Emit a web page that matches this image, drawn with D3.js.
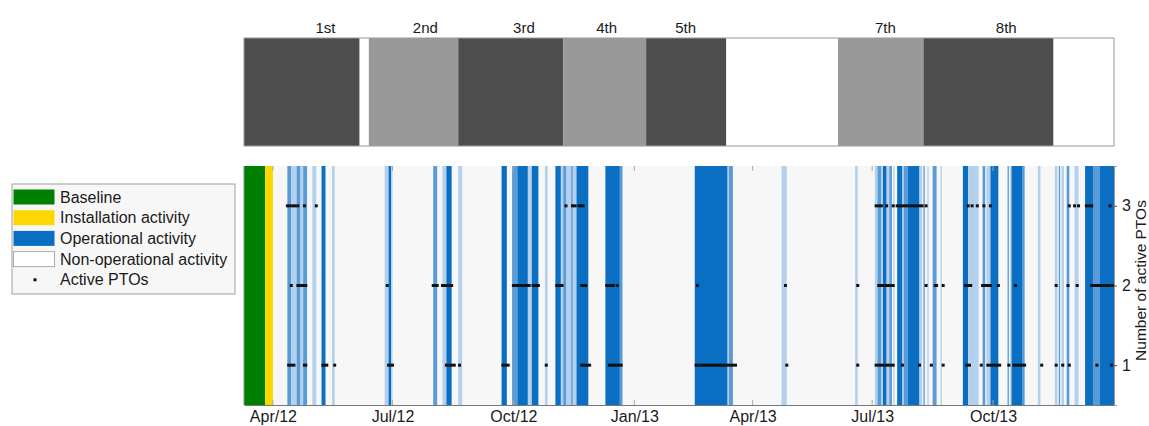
<!DOCTYPE html>
<html>
<head>
<meta charset="utf-8">
<script src="https://cdn.jsdelivr.net/npm/d3@7"></script>
<style>
  body { margin: 0; background: #fff; }
  svg { font-family: "Liberation Sans", Arial, sans-serif; }
</style>
</head>
<body>
<svg id="chart" width="1149" height="426"></svg>
<script>
// Time span shown on both panels
const timeSpan = ["2012-03-10", "2014-01-01"];

// Top band: deployment campaigns
const campaigns = [
    ["2012-03-10", "2012-06-06", "dark"],
    ["2012-06-06", "2012-06-13", "none"],
    ["2012-06-13", "2012-08-20", "light"],
    ["2012-08-20", "2012-11-08", "dark"],
    ["2012-11-08", "2013-01-10", "light"],
    ["2013-01-10", "2013-03-12", "dark"],
    ["2013-03-12", "2013-06-05", "none"],
    ["2013-06-05", "2013-08-09", "light"],
    ["2013-08-09", "2013-11-16", "dark"],
    ["2013-11-16", "2014-01-01", "none"]
];
const campaignLabels = ["1st", "2nd", "3rd", "4th", "5th", "7th", "8th"];
const campaignLabelDates = ["2012-05-11", "2012-07-26", "2012-10-09", "2012-12-11", "2013-02-09", "2013-07-11", "2013-10-11"];

// Bottom panel
const baseline = ["2012-03-10", "2012-03-26"];
const installation = ["2012-03-26", "2012-04-01"];

// operational periods: start, end, shade (L light, M mid, D dark)
const operational = [
    ["2012-04-12", "2012-04-15", "M"], ["2012-04-15", "2012-04-19", "L"], ["2012-04-19", "2012-04-22", "M"],
    ["2012-04-22", "2012-04-24", "L"], ["2012-04-24", "2012-04-27", "M"], ["2012-05-01", "2012-05-04", "L"],
    ["2012-05-08", "2012-05-11", "D"], ["2012-05-16", "2012-05-18", "L"], ["2012-06-25", "2012-06-28", "L"],
    ["2012-06-28", "2012-06-30", "D"], ["2012-06-30", "2012-07-01", "L"], ["2012-08-01", "2012-08-04", "M"],
    ["2012-08-08", "2012-08-11", "L"], ["2012-08-11", "2012-08-15", "D"], ["2012-08-20", "2012-08-23", "L"],
    ["2012-09-22", "2012-09-26", "D"], ["2012-09-30", "2012-10-04", "M"], ["2012-10-04", "2012-10-12", "D"],
    ["2012-10-12", "2012-10-15", "L"], ["2012-10-15", "2012-10-20", "D"], ["2012-10-25", "2012-10-27", "L"],
    ["2012-11-02", "2012-11-18", "L"], ["2012-11-02", "2012-11-06", "D"], ["2012-11-08", "2012-11-10", "M"],
    ["2012-11-14", "2012-11-15", "M"], ["2012-11-18", "2012-11-27", "D"], ["2012-12-10", "2012-12-21", "D"],
    ["2012-12-21", "2012-12-23", "M"], ["2013-02-16", "2013-03-13", "D"], ["2013-03-13", "2013-03-14", "L"],
    ["2013-03-14", "2013-03-17", "M"], ["2013-04-23", "2013-04-27", "L"], ["2013-06-18", "2013-06-20", "L"],
    ["2013-07-03", "2013-07-05", "L"], ["2013-07-05", "2013-07-08", "M"], ["2013-07-09", "2013-07-12", "D"],
    ["2013-07-12", "2013-07-14", "L"], ["2013-07-14", "2013-07-16", "M"], ["2013-07-17", "2013-07-18", "L"],
    ["2013-07-20", "2013-07-24", "D"], ["2013-07-24", "2013-07-25", "L"], ["2013-07-25", "2013-07-28", "M"],
    ["2013-07-28", "2013-08-06", "D"], ["2013-08-06", "2013-08-08", "L"], ["2013-08-09", "2013-08-10", "M"],
    ["2013-08-12", "2013-08-13", "L"], ["2013-08-16", "2013-08-19", "M"], ["2013-08-22", "2013-08-23", "L"],
    ["2013-09-08", "2013-09-12", "D"], ["2013-09-12", "2013-09-20", "L"], ["2013-09-23", "2013-09-25", "M"],
    ["2013-09-26", "2013-09-29", "L"], ["2013-09-29", "2013-10-05", "D"], ["2013-10-12", "2013-10-13", "M"],
    ["2013-10-14", "2013-10-15", "L"], ["2013-10-15", "2013-10-23", "D"], ["2013-10-23", "2013-10-25", "M"],
    ["2013-11-04", "2013-11-06", "L"], ["2013-11-17", "2013-11-19", "L"], ["2013-11-20", "2013-11-21", "M"],
    ["2013-11-22", "2013-11-24", "L"], ["2013-11-26", "2013-11-28", "M"], ["2013-12-02", "2013-12-05", "L"],
    ["2013-12-10", "2013-12-16", "D"], ["2013-12-16", "2013-12-21", "M"], ["2013-12-21", "2014-01-01", "D"]
];

// active PTOs: runs of consecutive days (start, end, number active)
const ptoRuns = [
    ["2012-04-12", "2012-04-18", 3], ["2012-04-20", "2012-04-20", 3], ["2012-04-25", "2012-04-25", 3],
    ["2012-05-04", "2012-05-04", 3], ["2012-11-10", "2012-11-10", 3], ["2012-11-15", "2012-11-15", 3],
    ["2012-11-17", "2012-11-17", 3], ["2012-11-20", "2012-11-23", 3], ["2013-07-04", "2013-07-08", 3],
    ["2013-07-12", "2013-07-12", 3], ["2013-07-17", "2013-07-17", 3], ["2013-07-20", "2013-07-27", 3],
    ["2013-07-29", "2013-08-08", 3], ["2013-08-11", "2013-08-11", 3], ["2013-09-12", "2013-09-12", 3],
    ["2013-09-15", "2013-09-15", 3], ["2013-09-19", "2013-09-19", 3], ["2013-09-24", "2013-09-24", 3],
    ["2013-09-29", "2013-09-29", 3], ["2013-11-28", "2013-11-28", 3], ["2013-12-02", "2013-12-02", 3],
    ["2013-12-05", "2013-12-05", 3], ["2013-12-11", "2013-12-15", 3], ["2013-12-29", "2013-12-29", 3],

    ["2012-04-15", "2012-04-15", 2], ["2012-04-20", "2012-04-26", 2], ["2012-06-27", "2012-06-27", 2],
    ["2012-08-01", "2012-08-04", 2], ["2012-08-08", "2012-08-15", 2], ["2012-10-01", "2012-10-13", 2],
    ["2012-10-16", "2012-10-20", 2], ["2012-11-03", "2012-11-07", 2], ["2012-11-22", "2012-11-25", 2],
    ["2012-12-11", "2012-12-16", 2], ["2012-12-19", "2012-12-19", 2], ["2013-02-18", "2013-02-18", 2],
    ["2013-04-26", "2013-04-26", 2], ["2013-06-20", "2013-06-20", 2], ["2013-07-06", "2013-07-17", 2],
    ["2013-08-11", "2013-08-11", 2], ["2013-08-18", "2013-08-19", 2], ["2013-08-24", "2013-08-24", 2],
    ["2013-09-10", "2013-09-14", 2], ["2013-09-23", "2013-09-29", 2], ["2013-10-05", "2013-10-05", 2],
    ["2013-10-18", "2013-10-18", 2], ["2013-11-18", "2013-11-18", 2], ["2013-11-27", "2013-11-27", 2],
    ["2013-12-04", "2013-12-04", 2], ["2013-12-15", "2013-12-31", 2],

    ["2012-04-13", "2012-04-17", 1], ["2012-04-25", "2012-04-26", 1], ["2012-05-09", "2012-05-12", 1],
    ["2012-05-18", "2012-05-18", 1], ["2012-06-28", "2012-07-01", 1], ["2012-08-11", "2012-08-17", 1],
    ["2012-08-21", "2012-08-21", 1], ["2012-09-23", "2012-09-27", 1], ["2012-10-26", "2012-10-26", 1],
    ["2012-11-22", "2012-11-28", 1], ["2012-12-13", "2012-12-22", 1], ["2013-02-17", "2013-03-19", 1],
    ["2013-04-27", "2013-04-27", 1], ["2013-06-20", "2013-06-20", 1], ["2013-07-04", "2013-07-17", 1],
    ["2013-07-24", "2013-07-24", 1], ["2013-08-06", "2013-08-06", 1], ["2013-08-15", "2013-08-15", 1],
    ["2013-08-24", "2013-08-24", 1], ["2013-09-11", "2013-09-13", 1], ["2013-09-22", "2013-09-22", 1],
    ["2013-09-27", "2013-10-06", 1], ["2013-10-13", "2013-10-13", 1], ["2013-10-17", "2013-10-25", 1],
    ["2013-11-07", "2013-11-07", 1], ["2013-11-18", "2013-11-18", 1], ["2013-11-23", "2013-11-23", 1],
    ["2013-11-28", "2013-11-28", 1], ["2013-12-19", "2013-12-19", 1], ["2013-12-30", "2013-12-30", 1]
];

const xTickDates = ["2012-04-01", "2012-07-01", "2012-10-01", "2013-01-01", "2013-04-01", "2013-07-01", "2013-10-01"];
const yTicks = [1, 2, 3];
const yLabel = "Number of active PTOs";
const legendLabels = ["Baseline", "Installation activity", "Operational activity", "Non-operational activity", "Active PTOs"];

// ---- drawing ----
const parse = d3.timeParse("%Y-%m-%d");
const svg = d3.select("#chart");
const fontFamily = "'Liberation Sans', Arial, sans-serif";

const left = 244, right = 1114;
const top1 = 38, bottom1 = 146;
const top2 = 166, bottom2 = 405;

const x = d3.scaleTime().domain(timeSpan.map(parse)).range([left, right]);
const y = d3.scaleLinear().domain([0.5, 3.5]).range([bottom2, top2]);

const campaignFill = { dark: "#4d4d4d", light: "#999999", none: "#ffffff" };
const opFill = { L: "#b3d1ec", M: "#5a9ad6", D: "#0a6fc2" };
const textColor = "#1a1a1a";

// top band
const topG = svg.append("g");
topG.selectAll("rect.camp")
    .data(campaigns)
    .join("rect")
    .attr("class", "camp")
    .attr("x", d => x(parse(d[0])))
    .attr("width", d => x(parse(d[1])) - x(parse(d[0])))
    .attr("y", top1)
    .attr("height", bottom1 - top1)
    .attr("fill", d => campaignFill[d[2]]);

topG.append("rect")
    .attr("x", left).attr("y", top1)
    .attr("width", right - left).attr("height", bottom1 - top1)
    .attr("fill", "none").attr("stroke", "#9a9a9a").attr("stroke-width", 1);

topG.selectAll("text.camp-label")
    .data(campaignLabels)
    .join("text")
    .attr("class", "camp-label")
    .attr("x", (d, i) => x(parse(campaignLabelDates[i])))
    .attr("y", 33)
    .attr("text-anchor", "middle")
    .attr("font-size", 15)
    .attr("fill", textColor)
    .text(d => d);

// bottom panel
const botG = svg.append("g");
botG.append("rect")
    .attr("x", left).attr("y", top2)
    .attr("width", right - left).attr("height", bottom2 - top2)
    .attr("fill", "#f7f7f7");

botG.append("rect")
    .attr("x", x(parse(baseline[0]))).attr("y", top2)
    .attr("width", x(parse(baseline[1])) - x(parse(baseline[0])))
    .attr("height", bottom2 - top2)
    .attr("fill", "#008000");

botG.append("rect")
    .attr("x", x(parse(installation[0]))).attr("y", top2)
    .attr("width", x(parse(installation[1])) - x(parse(installation[0])))
    .attr("height", bottom2 - top2)
    .attr("fill", "#ffd700");

botG.selectAll("rect.op")
    .data(operational)
    .join("rect")
    .attr("class", "op")
    .attr("x", d => x(parse(d[0])))
    .attr("width", d => Math.max(1, x(parse(d[1])) - x(parse(d[0]))))
    .attr("y", top2)
    .attr("height", bottom2 - top2)
    .attr("fill", d => opFill[d[2]]);

// inner tick marks, top and bottom
const tickG = botG.append("g");
xTickDates.forEach(t => {
    const tx = x(parse(t));
    tickG.append("line").attr("x1", tx).attr("x2", tx).attr("y1", bottom2).attr("y2", bottom2 - 5)
        .attr("stroke", "#aaa");
    tickG.append("line").attr("x1", tx).attr("x2", tx).attr("y1", top2).attr("y2", top2 + 5)
        .attr("stroke", "#aaa");
});

// active PTO markers
botG.selectAll("rect.pto")
    .data(ptoRuns)
    .join("rect")
    .attr("class", "pto")
    .attr("x", d => x(parse(d[0])) - 1.5)
    .attr("width", d => x(parse(d[1])) - x(parse(d[0])) + 3)
    .attr("y", d => y(d[2]) - 1.5)
    .attr("height", 3)
    .attr("fill", "#111");

// x axis
const xAxis = d3.axisBottom(x)
    .tickValues(xTickDates.map(parse))
    .tickFormat(d3.timeFormat("%b/%y"))
    .tickSize(0)
    .tickPadding(6);
const xg = svg.append("g").attr("transform", `translate(0,${bottom2})`).call(xAxis);
xg.select(".domain").attr("stroke", "#777");
xg.selectAll("text").attr("font-size", 16).attr("fill", textColor).attr("font-family", fontFamily);

// y axis (right)
const yAxis = d3.axisRight(y).tickValues(yTicks).tickFormat(d3.format("d")).tickSize(3).tickPadding(5);
const yg = svg.append("g").attr("transform", `translate(${right},0)`).call(yAxis);
yg.select(".domain").attr("stroke", "#999");
yg.selectAll(".tick line").attr("stroke", "#555");
yg.selectAll("text").attr("font-size", 16).attr("fill", textColor).attr("font-family", fontFamily);

svg.append("text")
    .attr("transform", `translate(1140,${(top2 + bottom2) / 2 - 5}) rotate(-90)`)
    .attr("text-anchor", "middle")
    .attr("dominant-baseline", "central")
    .attr("font-size", 15.5)
    .attr("fill", textColor)
    .text(yLabel);

// left edge of bottom panel
svg.append("line").attr("x1", left).attr("x2", left).attr("y1", top2).attr("y2", bottom2)
    .attr("stroke", "#888");

// legend
const legend = svg.append("g");
legend.append("rect")
    .attr("x", 12).attr("y", 184).attr("width", 223).attr("height", 110)
    .attr("fill", "#f7f7f7").attr("stroke", "#a0a0a0");

const swatchFill = ["#008000", "#ffd700", "#0a6fc2", "#ffffff", null];
const rows = legend.selectAll("g.item")
    .data(legendLabels)
    .join("g")
    .attr("class", "item")
    .attr("transform", (d, i) => `translate(0,${197 + i * 20.7})`);

rows.filter((d, i) => swatchFill[i] !== null)
    .append("rect")
    .attr("x", 13.5).attr("y", -7.5).attr("width", 41).attr("height", 15)
    .attr("fill", (d, i) => swatchFill[i])
    .attr("stroke", (d, i) => i === 3 ? "#aaa" : "none");

rows.filter((d, i) => swatchFill[i] === null)
    .append("rect")
    .attr("x", 33.5).attr("y", -1.5).attr("width", 3).attr("height", 3)
    .attr("fill", "#111");

rows.append("text")
    .attr("x", 60).attr("y", 0)
    .attr("dominant-baseline", "central")
    .attr("font-size", 16)
    .attr("fill", textColor)
    .text(d => d);
</script>
</body>
</html>
